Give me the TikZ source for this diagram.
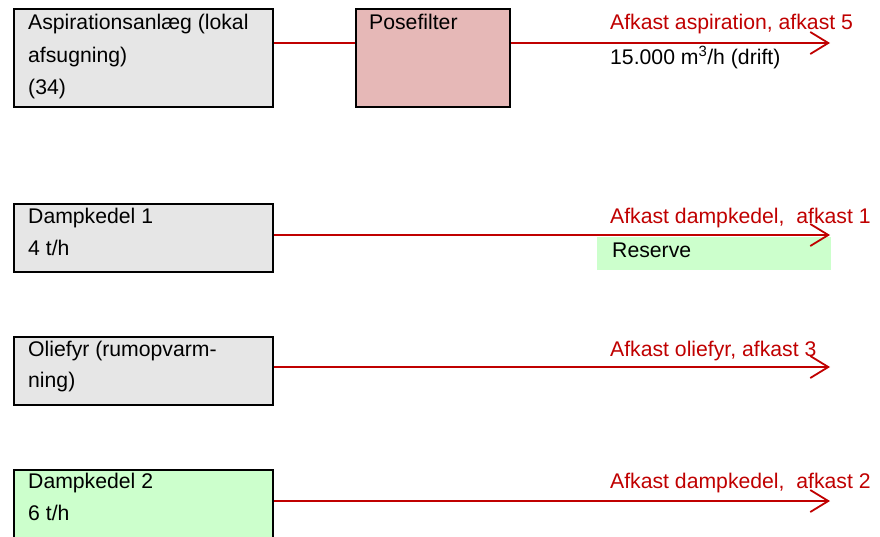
\documentclass[tikz,border=0pt]{standalone}
\usepackage{fontspec}
\setmainfont{Liberation Sans}
\usetikzlibrary{arrows.meta}
\definecolor{boxgray}{HTML}{E6E6E6}
\definecolor{boxrose}{HTML}{E6B8B7}
\definecolor{boxgreen}{HTML}{CCFFCC}
\definecolor{darkred}{HTML}{C00000}
\begin{document}
\begin{tikzpicture}[x=1pt,y=-1pt,
  box/.style={draw=black,line width=2.2pt,rectangle,inner sep=0pt,anchor=north west},
  txt/.style={anchor=base west,inner sep=0pt,font=\fontsize{21.2}{25}\selectfont},
  redtxt/.style={txt,text=darkred},
  flow/.style={draw=darkred,line width=1.8pt},
  outflow/.style={flow,-{Straight Barb[length=18pt,width=22pt,line width=1.8pt]}}]
\useasboundingbox (0,0) rectangle (880,536);
\clip (0,0) rectangle (880,536);
\fill[white] (0,0) rectangle (880,536);
% boxes
\node[box,fill=boxgray,minimum width=259pt,minimum height=98pt] (asp) at (13,8) {};
\node[box,fill=boxrose,minimum width=154pt,minimum height=98pt] (pose) at (355,8) {};
\node[box,fill=boxgray,minimum width=259pt,minimum height=68pt] (dk1) at (13,203) {};
\node[box,fill=boxgray,minimum width=259pt,minimum height=68pt] (olie) at (13,336) {};
\node[box,fill=boxgreen,minimum width=259pt,minimum height=90pt] (dk2) at (13,469) {};
\node[fill=boxgreen,rectangle,inner sep=0pt,anchor=north west,minimum width=234pt,minimum height=33pt] (res) at (597,237) {};
% box texts
\node[txt] (asp1) at (28,29) {Aspirationsanlæg (lokal};
\node[txt] (asp2) at (28,62) {afsugning)};
\node[txt] (asp3) at (28,94) {(34)};
\node[txt] (posetxt) at (369,29) {Posefilter};
\node[txt] (dk1a) at (28,223) {Dampkedel 1};
\node[txt] (dk1b) at (28,255) {4 t/h};
\node[txt] (olia) at (28,356) {Oliefyr (rumopvarm-};
\node[txt] (olib) at (28,387) {ning)};
\node[txt] (dk2a) at (28,488) {Dampkedel 2};
\node[txt] (dk2b) at (28,520) {6 t/h};
\node[txt] (restxt) at (612,257) {Reserve};
% end points
\coordinate (t1) at (830,43);
\coordinate (t2) at (830,235);
\coordinate (t3) at (830,367);
\coordinate (t4) at (830,501);
% connectors
\draw[flow] (asp.east |- t1) -- (pose.west |- t1);
\draw[outflow] (pose.east |- t1) -- (t1);
\draw[outflow] (dk1.east |- t2) -- (t2);
\draw[outflow] (olie.east |- t3) -- (t3);
\draw[outflow] (dk2.east |- t4) -- (t4);
% labels
\node[redtxt] (l1) at (610,29) {Afkast aspiration, afkast 5};
\node[txt] (l1b) at (610,64) {15.000 m\textsuperscript{3}/h (drift)};
\node[redtxt] (l2) at (610,223) {Afkast dampkedel,\ \ afkast 1};
\node[redtxt] (l3) at (610,356) {Afkast oliefyr, afkast 3};
\node[redtxt] (l4) at (610,488) {Afkast dampkedel,\ \ afkast 2};
\end{tikzpicture}
\end{document}
